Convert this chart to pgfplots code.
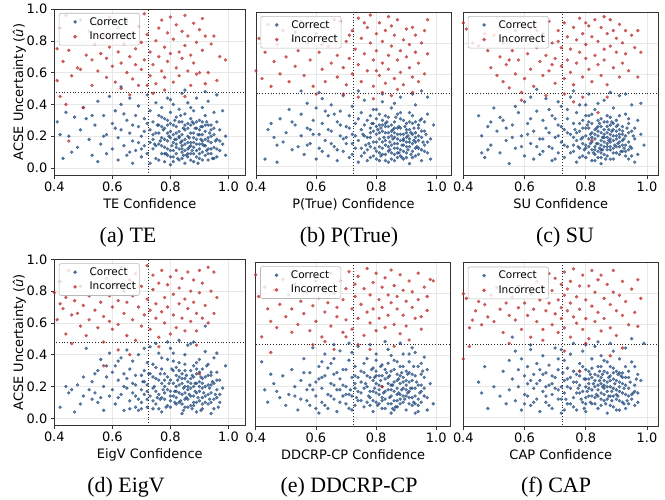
\documentclass[border=0pt]{standalone}
\usepackage{fontspec}
\setmainfont{DejaVu Sans}
\newfontfamily\capfont{Liberation Serif}
\usepackage{pgfplots}
\pgfplotsset{compat=1.18}

\definecolor{cblue}{RGB}{31,73,125}
\definecolor{cred}{RGB}{190,45,45}
\definecolor{gridc}{RGB}{232,232,232}

\pgfplotsset{
  panel/.style={
    scale only axis,
    xmin=0.4, ymax=1.0,
    xtick={0.4,0.6,0.8,1.0},
    ytick={0,0.2,0.4,0.6,0.8,1.0},
    /pgf/number format/assume math mode=true,
    xticklabel style={/pgf/number format/.cd,fixed,fixed zerofill,precision=1},
    yticklabel style={/pgf/number format/.cd,fixed,fixed zerofill,precision=1},
    ticklabel style={font=\fontsize{13}{15}\selectfont},
    label style={font=\fontsize{13}{15}\selectfont},
    ylabel shift=-6bp,
    grid=major,
    major grid style={gridc, line width=0.6pt},
    axis line style={black!80, line width=0.8pt},
    tick style={black!80, line width=0.6pt},
    tick align=outside,
    major tick length=3.5bp,
    xtick pos=bottom, ytick pos=left,
    legend style={at={(0,1)}, anchor=north west, xshift=4.5bp, yshift=-4bp,
      fill=white, fill opacity=0.8, text opacity=1, draw=black!28,
      draw opacity=1, line width=0.6pt,
      rounded corners=2bp, font=\fontsize{10.5}{11}\selectfont,
      row sep=1.5bp, inner xsep=1.5bp, inner ysep=2bp},
    legend cell align=left,
  },
  noy/.style={yticklabels={}, ytick style={draw=none}},
  dotlegend/.style={legend image code/.code={%
      \path[draw=none, fill=none] (0bp,-2bp) rectangle (27bp,2bp);
      \draw[mark repeat=2,mark phase=2,##1]
      plot coordinates {(0bp,0bp) (14.5bp,0bp) (27bp,0bp)};}},
  cor/.style={only marks, mark=*, mark size=1.5bp, color=cblue,
    mark options={draw=none, fill=cblue, opacity=0.7}, dotlegend},
  inc/.style={only marks, mark=*, mark size=1.5bp, color=cred,
    mark options={draw=none, fill=cred, opacity=0.72}, dotlegend},
  thr/.style={black!85, dotted, line width=0.8pt, forget plot},
}

\begin{document}
\begin{tikzpicture}
\useasboundingbox (0,0) rectangle (665bp,-500bp);

% (a) TE
\begin{axis}[panel, at={(54.3bp,-9bp)}, anchor=north west,
  width=191bp, height=166bp, xmax=1.058, ymin=-0.044,
  xlabel={TE Confidence}, ylabel={ACSE Uncertainty (\textit{û})}]
\addplot[cor] coordinates {
(0.41,0.29) (0.42,0.21) (0.43,0.06) (0.44,0.35) (0.45,0.20) (0.46,0.10) (0.47,0.32) (0.48,0.13) (0.49,0.24) (0.50,0.38)
(0.51,0.31) (0.52,0.18) (0.53,0.08) (0.54,0.27) (0.55,0.42) (0.55,0.04) (0.56,0.15) (0.57,0.33) (0.58,0.21) (0.58,0.09)
(0.59,0.45) (0.60,0.28) (0.60,0.12) (0.61,0.36) (0.62,0.19) (0.62,0.05) (0.63,0.24) (0.63,0.40) (0.64,0.14) (0.65,0.30)
(0.65,0.08) (0.66,0.22) (0.66,0.44) (0.67,0.17) (0.67,0.03) (0.68,0.33) (0.68,0.11) (0.69,0.26) (0.69,0.39) (0.70,0.07)
(0.70,0.20) (0.71,0.31) (0.71,0.14) (0.72,0.46) (0.72,0.09) (0.73,0.24) (0.73,0.36) (0.73,0.03) (0.74,0.18) (0.74,0.29)
(0.74,0.12) (0.75,0.41) (0.75,0.06) (0.75,0.22) (0.76,0.15) (0.76,0.33) (0.76,0.27) (0.77,0.09) (0.77,0.19) (0.77,0.38)
(0.78,0.04) (0.78,0.25) (0.78,0.13) (0.78,0.31) (0.79,0.17) (0.79,0.08) (0.79,0.44) (0.79,0.22) (0.80,0.11) (0.80,0.28)
(0.80,0.35) (0.80,0.02) (0.81,0.16) (0.81,0.21) (0.81,0.07) (0.81,0.40) (0.82,0.13) (0.82,0.26) (0.82,0.32) (0.82,0.09)
(0.83,0.19) (0.83,0.05) (0.83,0.37) (0.83,0.23) (0.84,0.14) (0.84,0.29) (0.84,0.10) (0.84,0.47) (0.85,0.18) (0.85,0.03)
(0.85,0.24) (0.85,0.34) (0.86,0.12) (0.86,0.20) (0.86,0.07) (0.86,0.41) (0.87,0.16) (0.87,0.27) (0.87,0.31) (0.87,0.09)
(0.88,0.13) (0.88,0.22) (0.88,0.04) (0.88,0.36) (0.89,0.18) (0.89,0.11) (0.89,0.25) (0.89,0.44) (0.90,0.15) (0.90,0.06)
(0.90,0.21) (0.90,0.30) (0.91,0.10) (0.91,0.17) (0.91,0.38) (0.91,0.26) (0.92,0.08) (0.92,0.14) (0.92,0.23) (0.92,0.33)
(0.93,0.05) (0.93,0.19) (0.93,0.12) (0.93,0.42) (0.94,0.16) (0.94,0.27) (0.94,0.09) (0.95,0.21) (0.95,0.13) (0.95,0.35)
(0.96,0.07) (0.96,0.18) (0.96,0.29) (0.97,0.11) (0.97,0.24) (0.98,0.15) (0.98,0.36) (0.99,0.20) (0.99,0.08) (0.96,0.46)
(0.72,0.28) (0.76,0.05) (0.79,0.30) (0.82,0.18) (0.84,0.21) (0.85,0.11) (0.86,0.25) (0.87,0.14) (0.88,0.19) (0.89,0.07)
(0.90,0.12) (0.91,0.21) (0.92,0.18) (0.93,0.27) (0.94,0.12) (0.83,0.12) (0.81,0.27) (0.78,0.18) (0.75,0.14) (0.77,0.26)
(0.80,0.19) (0.86,0.16) (0.88,0.28) (0.91,0.05) (0.94,0.20) (0.84,0.06) (0.79,0.12) (0.74,0.21) (0.71,0.23) (0.69,0.16)
(0.67,0.27) (0.64,0.34) (0.61,0.25) (0.57,0.20) (0.53,0.33) (0.92,0.48) (0.85,0.49) (0.63,0.51) (0.80,0.43) (0.87,0.38)
(0.82,0.15) (0.85,0.27) (0.87,0.22) (0.89,0.15) (0.90,0.24) (0.93,0.09) (0.86,0.09) (0.83,0.29) (0.80,0.07) (0.77,0.14)
(0.91,0.29) (0.95,0.06) (0.88,0.09) (0.84,0.17) (0.81,0.11) (0.76,0.22) (0.73,0.16) (0.70,0.12) (0.66,0.10) (0.97,0.17)
(0.765,0.17) (0.775,0.24) (0.785,0.09) (0.795,0.20) (0.805,0.14) (0.815,0.30) (0.825,0.06) (0.835,0.16) (0.845,0.25) (0.855,0.08)
(0.865,0.19) (0.875,0.11) (0.885,0.25) (0.895,0.03) (0.905,0.18) (0.915,0.14) (0.925,0.29) (0.935,0.22) (0.945,0.06) (0.955,0.17)
(0.77,0.32) (0.79,0.27) (0.81,0.04) (0.83,0.20) (0.85,0.15) (0.87,0.05) (0.89,0.29) (0.91,0.15) (0.93,0.17) (0.95,0.25)
(0.78,0.09) (0.80,0.23) (0.82,0.22) (0.84,0.12) (0.86,0.28) (0.88,0.16) (0.90,0.09) (0.92,0.27) (0.94,0.24) (0.96,0.12)
(0.745,0.15) (0.755,0.27) (0.835,0.33) (0.865,0.13) (0.895,0.21) (0.875,0.29) (0.845,0.08) (0.815,0.18) (0.925,0.11) (0.905,0.26)
};
\addlegendentry{Correct}
\addplot[inc] coordinates {
(0.41,0.55) (0.41,0.75) (0.42,0.45) (0.42,0.88) (0.43,0.67) (0.44,0.96) (0.44,0.40) (0.45,0.74) (0.45,0.17) (0.46,0.58)
(0.47,0.82) (0.48,0.63) (0.49,0.62) (0.49,0.93) (0.50,0.38) (0.51,0.71) (0.52,0.86) (0.53,0.68) (0.53,0.52) (0.54,0.78)
(0.55,0.90) (0.55,0.61) (0.56,0.72) (0.57,0.83) (0.58,0.57) (0.58,0.69) (0.59,0.95) (0.59,0.76) (0.60,0.64) (0.60,0.81)
(0.61,0.54) (0.62,0.73) (0.62,0.88) (0.63,0.66) (0.63,0.50) (0.64,0.78) (0.65,0.60) (0.65,0.92) (0.66,0.70) (0.66,0.84)
(0.67,0.56) (0.68,0.75) (0.68,0.65) (0.69,0.89) (0.70,0.79) (0.70,0.62) (0.71,0.97) (0.71,0.68) (0.72,0.52) (0.72,0.84)
(0.73,0.73) (0.73,0.58) (0.74,0.65) (0.75,0.80) (0.75,0.53) (0.76,0.88) (0.76,0.70) (0.77,0.61) (0.77,0.93) (0.78,0.76)
(0.78,0.57) (0.79,0.85) (0.79,0.67) (0.80,0.72) (0.80,0.95) (0.81,0.54) (0.81,0.81) (0.82,0.63) (0.82,0.90) (0.83,0.73)
(0.83,0.58) (0.84,0.86) (0.84,0.69) (0.85,0.77) (0.85,0.96) (0.86,0.61) (0.86,0.83) (0.87,0.71) (0.87,0.52) (0.88,0.91)
(0.88,0.66) (0.89,0.79) (0.89,0.59) (0.90,0.87) (0.90,0.60) (0.91,0.74) (0.91,0.94) (0.92,0.53) (0.92,0.83) (0.93,0.60)
(0.94,0.78) (0.95,0.83) (0.96,0.55) (0.97,0.70) (0.99,0.68) (0.74,0.47) (0.66,0.46) (0.85,0.45) (0.69,0.52) (0.78,0.49)
};
\addlegendentry{Incorrect}
\addplot[thr] coordinates {(0.725,-0.1) (0.725,1.1)};
\addplot[thr] coordinates {(0.3,0.475) (1.2,0.475)};
\end{axis}

% (b) P(True)
\begin{axis}[panel, noy, at={(256bp,-12bp)}, anchor=north west,
  width=195bp, height=163bp, xmax=1.048, ymin=-0.053,
  xlabel={P(True) Confidence}]
\addplot[cor] coordinates {
(0.43,0.05) (0.44,0.24) (0.45,0.28) (0.46,0.19) (0.47,0.03) (0.48,0.31) (0.49,0.16) (0.50,0.22) (0.51,0.37) (0.52,0.11)
(0.53,0.27) (0.54,0.13) (0.55,0.34) (0.55,0.20) (0.56,0.08) (0.57,0.41) (0.57,0.25) (0.58,0.15) (0.59,0.30) (0.60,0.05)
(0.60,0.38) (0.61,0.21) (0.61,0.12) (0.62,0.44) (0.62,0.28) (0.63,0.17) (0.64,0.07) (0.64,0.33) (0.65,0.23) (0.65,0.40)
(0.66,0.13) (0.67,0.29) (0.67,0.04) (0.68,0.20) (0.68,0.36) (0.69,0.10) (0.69,0.46) (0.70,0.26) (0.70,0.15) (0.71,0.33)
(0.71,0.06) (0.72,0.21) (0.72,0.39) (0.73,0.12) (0.73,0.28) (0.74,0.03) (0.74,0.17) (0.75,0.35) (0.75,0.24) (0.76,0.09)
(0.76,0.43) (0.77,0.19) (0.77,0.30) (0.78,0.13) (0.78,0.06) (0.78,0.25) (0.79,0.37) (0.79,0.16) (0.80,0.21) (0.80,0.10)
(0.80,0.31) (0.81,0.04) (0.81,0.18) (0.81,0.27) (0.82,0.42) (0.82,0.12) (0.82,0.23) (0.83,0.08) (0.83,0.33) (0.83,0.17)
(0.84,0.26) (0.84,0.13) (0.84,0.03) (0.85,0.20) (0.85,0.38) (0.85,0.09) (0.86,0.29) (0.86,0.15) (0.86,0.22) (0.87,0.06)
(0.87,0.34) (0.87,0.18) (0.88,0.11) (0.88,0.25) (0.88,0.45) (0.89,0.14) (0.89,0.05) (0.89,0.30) (0.90,0.19) (0.90,0.09)
(0.90,0.24) (0.91,0.35) (0.91,0.13) (0.91,0.02) (0.92,0.21) (0.92,0.28) (0.92,0.10) (0.93,0.16) (0.93,0.40) (0.93,0.07)
(0.94,0.25) (0.94,0.12) (0.95,0.19) (0.95,0.31) (0.95,0.04) (0.96,0.14) (0.96,0.23) (0.97,0.09) (0.97,0.34) (0.98,0.18)
(0.98,0.05) (0.99,0.27) (0.97,0.45) (0.95,0.49) (0.92,0.47) (0.82,0.47) (0.74,0.49) (0.55,0.49) (0.61,0.48) (0.86,0.41)
(0.79,0.23) (0.81,0.09) (0.83,0.22) (0.84,0.19) (0.85,0.14) (0.86,0.08) (0.87,0.25) (0.88,0.17) (0.89,0.21) (0.90,0.13)
(0.91,0.18) (0.92,0.15) (0.93,0.22) (0.94,0.08) (0.88,0.31) (0.85,0.27) (0.82,0.30) (0.80,0.16) (0.78,0.19) (0.76,0.27)
(0.75,0.12) (0.73,0.20) (0.72,0.08) (0.70,0.19) (0.68,0.27) (0.66,0.34) (0.64,0.24) (0.62,0.10) (0.59,0.21) (0.57,0.14)
(0.90,0.28) (0.87,0.12) (0.84,0.32) (0.81,0.22) (0.79,0.07) (0.77,0.11) (0.93,0.12) (0.96,0.29) (0.91,0.24) (0.86,0.19)
(0.83,0.04) (0.80,0.26) (0.77,0.04) (0.89,0.10) (0.92,0.33) (0.94,0.17) (0.88,0.07) (0.85,0.23) (0.82,0.16) (0.80,0.37)
(0.76,0.20) (0.74,0.31) (0.71,0.25) (0.69,0.18) (0.67,0.11) (0.65,0.15) (0.63,0.36) (0.58,0.24) (0.52,0.29) (0.47,0.14)
(0.84,0.10) (0.86,0.25) (0.88,0.21) (0.90,0.06) (0.91,0.29) (0.93,0.19) (0.87,0.15) (0.83,0.26) (0.81,0.13) (0.79,0.28)
(0.95,0.11) (0.89,0.18) (0.86,0.04) (0.82,0.08) (0.78,0.33) (0.75,0.07) (0.72,0.15) (0.94,0.27) (0.97,0.16) (0.90,0.16)
(0.775,0.15) (0.785,0.28) (0.795,0.12) (0.805,0.24) (0.815,0.07) (0.825,0.19) (0.835,0.29) (0.845,0.11) (0.855,0.18) (0.865,0.32)
(0.875,0.09) (0.885,0.14) (0.895,0.26) (0.905,0.20) (0.915,0.08) (0.925,0.25) (0.935,0.13) (0.945,0.30) (0.955,0.16) (0.965,0.21)
(0.80,0.05) (0.82,0.27) (0.84,0.22) (0.86,0.12) (0.88,0.35) (0.90,0.22) (0.92,0.06) (0.94,0.20) (0.96,0.10) (0.78,0.22)
(0.81,0.34) (0.83,0.14) (0.85,0.05) (0.87,0.21) (0.89,0.17) (0.91,0.16) (0.93,0.29) (0.95,0.23) (0.83,0.28) (0.87,0.09)
(0.755,0.21) (0.765,0.14) (0.815,0.25) (0.845,0.16) (0.875,0.26) (0.905,0.11) (0.925,0.17) (0.855,0.24) (0.885,0.06) (0.915,0.22)
};
\addlegendentry{Correct}
\addplot[inc] coordinates {
(0.40,0.62) (0.41,0.83) (0.42,0.57) (0.43,0.74) (0.44,0.92) (0.45,0.52) (0.46,0.68) (0.47,0.79) (0.48,0.60) (0.49,0.88)
(0.50,0.71) (0.51,0.55) (0.52,0.82) (0.53,0.65) (0.54,0.75) (0.55,0.94) (0.56,0.59) (0.57,0.80) (0.58,0.69) (0.59,0.52)
(0.60,0.86) (0.61,0.74) (0.62,0.63) (0.63,0.90) (0.63,0.55) (0.64,0.78) (0.65,0.67) (0.66,0.84) (0.67,0.58) (0.67,0.72)
(0.68,0.94) (0.69,0.64) (0.70,0.81) (0.70,0.53) (0.71,0.70) (0.72,0.88) (0.72,0.60) (0.73,0.76) (0.74,0.96) (0.74,0.66)
(0.75,0.83) (0.75,0.55) (0.76,0.73) (0.77,0.90) (0.77,0.62) (0.78,0.80) (0.78,0.98) (0.79,0.69) (0.79,0.52) (0.80,0.86)
(0.80,0.75) (0.81,0.59) (0.81,0.93) (0.82,0.67) (0.82,0.81) (0.83,0.54) (0.83,0.88) (0.84,0.72) (0.84,0.63) (0.85,0.91)
(0.85,0.78) (0.86,0.57) (0.86,0.85) (0.87,0.69) (0.87,0.95) (0.88,0.75) (0.88,0.61) (0.89,0.82) (0.89,0.53) (0.90,0.71)
(0.90,0.89) (0.91,0.64) (0.91,0.79) (0.92,0.90) (0.92,0.58) (0.93,0.74) (0.93,0.85) (0.94,0.67) (0.95,0.80) (0.96,0.60)
(0.97,0.95) (0.97,0.73) (0.96,0.88) (0.94,0.55) (0.76,0.93) (0.71,0.85) (0.66,0.95) (0.62,0.79) (0.58,0.91) (0.53,0.87)
(0.80,0.62) (0.84,0.97) (0.87,0.50) (0.74,0.45) (0.79,0.44) (0.85,0.46) (0.69,0.47) (0.60,0.47) (0.92,0.48) (0.82,0.48)
};
\addlegendentry{Incorrect}
\addplot[thr] coordinates {(0.725,-0.1) (0.725,1.1)};
\addplot[thr] coordinates {(0.3,0.475) (1.2,0.475)};
\end{axis}

% (c) SU
\begin{axis}[panel, noy, at={(463.3bp,-12bp)}, anchor=north west,
  width=195bp, height=163bp, xmax=1.037, ymin=-0.053,
  xlabel={SU Confidence}]
\addplot[cor] coordinates {
(0.45,0.33) (0.46,0.20) (0.47,0.06) (0.48,0.26) (0.49,0.14) (0.50,0.38) (0.51,0.23) (0.52,0.09) (0.53,0.30) (0.54,0.17)
(0.55,0.02) (0.56,0.27) (0.57,0.12) (0.58,0.35) (0.59,0.20) (0.60,0.07) (0.60,0.42) (0.61,0.28) (0.62,0.15) (0.63,0.23)
(0.63,0.05) (0.64,0.36) (0.65,0.18) (0.66,0.10) (0.66,0.30) (0.67,0.44) (0.68,0.22) (0.68,0.13) (0.69,0.04) (0.69,0.33)
(0.70,0.19) (0.71,0.27) (0.71,0.09) (0.72,0.39) (0.72,0.16) (0.73,0.24) (0.73,0.06) (0.74,0.31) (0.74,0.13) (0.75,0.21)
(0.75,0.45) (0.76,0.10) (0.76,0.28) (0.77,0.17) (0.77,0.35) (0.77,0.03) (0.78,0.23) (0.78,0.12) (0.79,0.30) (0.79,0.07)
(0.79,0.19) (0.80,0.40) (0.80,0.14) (0.80,0.25) (0.81,0.09) (0.81,0.33) (0.81,0.18) (0.82,0.04) (0.82,0.22) (0.82,0.28)
(0.83,0.13) (0.83,0.37) (0.83,0.08) (0.84,0.20) (0.84,0.26) (0.84,0.15) (0.85,0.02) (0.85,0.31) (0.85,0.11) (0.86,0.19)
(0.86,0.43) (0.86,0.24) (0.87,0.07) (0.87,0.15) (0.87,0.33) (0.88,0.21) (0.88,0.11) (0.88,0.27) (0.89,0.05) (0.89,0.17)
(0.89,0.38) (0.90,0.13) (0.90,0.23) (0.90,0.30) (0.91,0.08) (0.91,0.19) (0.91,0.46) (0.92,0.14) (0.92,0.26) (0.93,0.10)
(0.93,0.20) (0.93,0.34) (0.94,0.05) (0.94,0.16) (0.94,0.28) (0.95,0.12) (0.95,0.23) (0.95,0.40) (0.96,0.18) (0.97,0.08)
(0.97,0.30) (0.98,0.21) (0.98,0.41) (0.96,0.03) (0.99,0.14) (0.93,0.47) (0.88,0.48) (0.81,0.47) (0.76,0.49) (0.64,0.50)
(0.80,0.20) (0.82,0.16) (0.84,0.10) (0.85,0.22) (0.86,0.13) (0.87,0.26) (0.88,0.16) (0.89,0.24) (0.90,0.18) (0.91,0.13)
(0.92,0.21) (0.87,0.19) (0.85,0.17) (0.83,0.24) (0.81,0.13) (0.79,0.25) (0.78,0.06) (0.76,0.19) (0.74,0.22) (0.73,0.14)
(0.71,0.20) (0.70,0.31) (0.69,0.12) (0.67,0.25) (0.65,0.08) (0.62,0.31) (0.59,0.13) (0.56,0.19) (0.52,0.32) (0.48,0.11)
(0.86,0.08) (0.88,0.32) (0.90,0.09) (0.92,0.17) (0.94,0.22) (0.84,0.30) (0.82,0.11) (0.80,0.06) (0.78,0.28) (0.76,0.14)
(0.83,0.18) (0.85,0.06) (0.87,0.11) (0.89,0.28) (0.91,0.24) (0.93,0.14) (0.95,0.07) (0.80,0.33) (0.77,0.22) (0.75,0.09)
(0.72,0.26) (0.70,0.05) (0.68,0.37) (0.66,0.18) (0.64,0.13) (0.61,0.21) (0.57,0.39) (0.54,0.25) (0.49,0.29) (0.46,0.09)
(0.84,0.23) (0.86,0.29) (0.88,0.05) (0.90,0.20) (0.82,0.34) (0.79,0.15) (0.81,0.25) (0.83,0.04) (0.92,0.10) (0.94,0.31)
(0.87,0.22) (0.85,0.14) (0.89,0.12) (0.91,0.33) (0.96,0.25) (0.74,0.37) (0.78,0.40) (0.84,0.41) (0.71,0.42) (0.62,0.45)
(0.785,0.18) (0.795,0.11) (0.805,0.27) (0.815,0.21) (0.825,0.09) (0.835,0.15) (0.845,0.28) (0.855,0.19) (0.865,0.05) (0.875,0.17)
(0.885,0.23) (0.895,0.14) (0.905,0.27) (0.915,0.10) (0.925,0.18) (0.935,0.25) (0.945,0.13) (0.955,0.20) (0.83,0.21) (0.85,0.26)
(0.87,0.13) (0.89,0.20) (0.91,0.16) (0.93,0.07) (0.80,0.12) (0.82,0.19) (0.84,0.06) (0.86,0.21) (0.88,0.18) (0.90,0.26)
(0.92,0.23) (0.94,0.11) (0.81,0.29) (0.83,0.11) (0.85,0.09) (0.87,0.29) (0.89,0.09) (0.91,0.21) (0.86,0.16) (0.88,0.13)
(0.775,0.13) (0.765,0.24) (0.815,0.15) (0.845,0.12) (0.875,0.24) (0.905,0.15) (0.925,0.12) (0.855,0.11) (0.885,0.29) (0.835,0.25)
};
\addlegendentry{Correct}
\addplot[inc] coordinates {
(0.40,0.93) (0.41,0.89) (0.43,0.80) (0.45,0.78) (0.47,0.86) (0.48,0.75) (0.49,0.64) (0.50,0.85) (0.51,0.59) (0.52,0.71)
(0.53,0.55) (0.53,0.80) (0.54,0.66) (0.55,0.51) (0.56,0.75) (0.57,0.60) (0.57,0.88) (0.58,0.69) (0.59,0.48) (0.60,0.82)
(0.60,0.57) (0.61,0.73) (0.62,0.63) (0.62,0.90) (0.63,0.52) (0.64,0.77) (0.65,0.68) (0.66,0.59) (0.66,0.86) (0.67,0.72)
(0.68,0.94) (0.68,0.62) (0.69,0.80) (0.70,0.54) (0.70,0.70) (0.71,0.88) (0.72,0.65) (0.72,0.77) (0.73,0.57) (0.73,0.93)
(0.74,0.84) (0.74,0.69) (0.75,0.61) (0.75,0.76) (0.76,0.90) (0.76,0.53) (0.77,0.82) (0.77,0.67) (0.78,0.74) (0.78,0.96)
(0.79,0.58) (0.79,0.86) (0.80,0.70) (0.80,0.79) (0.81,0.63) (0.81,0.91) (0.82,0.55) (0.82,0.84) (0.83,0.72) (0.83,0.95)
(0.84,0.66) (0.84,0.81) (0.85,0.59) (0.85,0.90) (0.86,0.76) (0.86,0.69) (0.87,0.86) (0.87,0.53) (0.88,0.78) (0.88,0.95)
(0.89,0.64) (0.89,0.88) (0.90,0.74) (0.90,0.83) (0.91,0.58) (0.91,0.92) (0.92,0.80) (0.92,0.67) (0.93,0.88) (0.93,0.73)
(0.94,0.62) (0.95,0.85) (0.96,0.77) (0.97,0.88) (0.98,0.74) (0.97,0.58) (0.87,0.45) (0.84,0.35) (0.82,0.17) (0.79,0.45)
(0.73,0.47) (0.67,0.46) (0.59,0.43) (0.76,0.42) (0.86,0.97) (0.80,0.93) (0.71,0.81) (0.64,0.88) (0.55,0.69) (0.69,0.66)
};
\addlegendentry{Incorrect}
\addplot[thr] coordinates {(0.725,-0.1) (0.725,1.1)};
\addplot[thr] coordinates {(0.3,0.475) (1.2,0.475)};
\end{axis}

% (d) EigV
\begin{axis}[panel, at={(54.3bp,-259.3bp)}, anchor=north west,
  width=191bp, height=166bp, xmax=1.058, ymin=-0.044,
  xlabel={EigV Confidence}, ylabel={ACSE Uncertainty (\textit{û})}]
\addplot[cor] coordinates {
(0.42,0.07) (0.44,0.20) (0.45,0.16) (0.46,0.18) (0.47,0.04) (0.48,0.21) (0.49,0.09) (0.50,0.14) (0.51,0.44) (0.52,0.18)
(0.53,0.23) (0.53,0.12) (0.54,0.16) (0.55,0.30) (0.55,0.10) (0.56,0.37) (0.57,0.20) (0.57,0.05) (0.58,0.26) (0.59,0.14)
(0.59,0.41) (0.60,0.18) (0.61,0.09) (0.61,0.33) (0.62,0.24) (0.63,0.15) (0.63,0.38) (0.64,0.05) (0.64,0.28) (0.65,0.19)
(0.65,0.43) (0.66,0.11) (0.66,0.31) (0.67,0.22) (0.67,0.36) (0.68,0.07) (0.68,0.14) (0.68,0.27) (0.69,0.05) (0.69,0.40)
(0.70,0.18) (0.70,0.10) (0.71,0.30) (0.71,0.23) (0.72,0.07) (0.72,0.35) (0.73,0.14) (0.73,0.45) (0.74,0.26) (0.74,0.19)
(0.75,0.09) (0.75,0.32) (0.76,0.15) (0.76,0.41) (0.77,0.22) (0.77,0.04) (0.78,0.28) (0.78,0.12) (0.79,0.37) (0.79,0.18)
(0.80,0.07) (0.80,0.24) (0.80,0.44) (0.81,0.14) (0.81,0.30) (0.82,0.20) (0.82,0.09) (0.83,0.35) (0.83,0.16) (0.83,0.26)
(0.84,0.03) (0.84,0.22) (0.85,0.12) (0.85,0.40) (0.85,0.30) (0.86,0.18) (0.86,0.07) (0.87,0.25) (0.87,0.14) (0.87,0.47)
(0.88,0.33) (0.88,0.10) (0.88,0.20) (0.89,0.28) (0.89,0.04) (0.89,0.16) (0.90,0.37) (0.90,0.23) (0.90,0.11) (0.91,0.19)
(0.91,0.31) (0.91,0.06) (0.92,0.26) (0.92,0.14) (0.92,0.42) (0.93,0.09) (0.93,0.21) (0.93,0.34) (0.94,0.16) (0.94,0.03)
(0.94,0.27) (0.95,0.12) (0.95,0.22) (0.95,0.38) (0.96,0.18) (0.96,0.29) (0.97,0.10) (0.97,0.24) (0.99,0.33) (0.98,0.19)
(0.92,0.58) (0.88,0.48) (0.83,0.49) (0.79,0.48) (0.75,0.47) (0.71,0.44) (0.96,0.41) (0.86,0.46) (0.81,0.41) (0.77,0.38)
(0.84,0.15) (0.86,0.23) (0.88,0.14) (0.90,0.17) (0.91,0.25) (0.93,0.15) (0.85,0.20) (0.82,0.27) (0.80,0.17) (0.78,0.20)
(0.76,0.24) (0.74,0.11) (0.72,0.21) (0.70,0.27) (0.69,0.12) (0.67,0.16) (0.65,0.25) (0.62,0.13) (0.60,0.29) (0.58,0.33)
(0.87,0.08) (0.89,0.22) (0.91,0.13) (0.94,0.21) (0.84,0.28) (0.82,0.13) (0.79,0.08) (0.77,0.31) (0.75,0.17) (0.73,0.28)
(0.83,0.10) (0.85,0.25) (0.87,0.19) (0.89,0.10) (0.92,0.20) (0.95,0.06) (0.96,0.24) (0.81,0.22) (0.79,0.26) (0.76,0.06)
(0.71,0.15) (0.68,0.21) (0.66,0.06) (0.64,0.20) (0.62,0.36) (0.56,0.13) (0.54,0.28) (0.50,0.26) (0.80,0.11) (0.86,0.12)
(0.88,0.26) (0.90,0.29) (0.93,0.27) (0.85,0.07) (0.83,0.21) (0.81,0.36) (0.78,0.16) (0.74,0.34) (0.72,0.12) (0.70,0.06)
(0.91,0.09) (0.87,0.30) (0.84,0.09) (0.82,0.32) (0.77,0.13) (0.75,0.25) (0.94,0.10) (0.97,0.15) (0.89,0.35) (0.85,0.34)
(0.745,0.20) (0.755,0.13) (0.765,0.28) (0.775,0.18) (0.785,0.07) (0.795,0.22) (0.805,0.31) (0.815,0.17) (0.825,0.24) (0.835,0.11)
(0.845,0.19) (0.855,0.27) (0.865,0.15) (0.875,0.06) (0.885,0.22) (0.895,0.13) (0.905,0.26) (0.915,0.16) (0.925,0.33) (0.935,0.12)
(0.945,0.23) (0.955,0.15) (0.965,0.07) (0.72,0.17) (0.74,0.06) (0.78,0.24) (0.80,0.14) (0.82,0.17) (0.84,0.25) (0.86,0.20)
(0.88,0.08) (0.90,0.20) (0.92,0.10) (0.94,0.29) (0.96,0.13) (0.83,0.30) (0.85,0.16) (0.87,0.22) (0.89,0.31) (0.91,0.22)
(0.705,0.23) (0.725,0.28) (0.815,0.10) (0.845,0.05) (0.875,0.27) (0.905,0.05) (0.935,0.19) (0.855,0.13) (0.885,0.17) (0.765,0.12)
};
\addlegendentry{Correct}
\addplot[inc] coordinates {
(0.40,0.79) (0.41,0.62) (0.42,0.72) (0.42,0.86) (0.43,0.69) (0.44,0.53) (0.44,0.76) (0.45,0.93) (0.46,0.47) (0.46,0.65)
(0.47,0.74) (0.48,0.66) (0.49,0.58) (0.49,0.83) (0.50,0.71) (0.51,0.52) (0.52,0.77) (0.52,0.62) (0.53,0.90) (0.54,0.68)
(0.55,0.57) (0.55,0.82) (0.56,0.73) (0.57,0.48) (0.57,0.64) (0.58,0.88) (0.59,0.61) (0.59,0.77) (0.60,0.56) (0.60,0.70)
(0.61,0.84) (0.62,0.59) (0.62,0.74) (0.63,0.95) (0.64,0.66) (0.64,0.80) (0.65,0.52) (0.65,0.73) (0.66,0.87) (0.67,0.62)
(0.67,0.77) (0.68,0.49) (0.68,0.91) (0.69,0.70) (0.70,0.58) (0.70,0.83) (0.71,0.65) (0.72,0.96) (0.72,0.75) (0.73,0.68)
(0.73,0.56) (0.74,0.81) (0.74,0.90) (0.75,0.63) (0.75,0.72) (0.76,0.51) (0.76,0.85) (0.77,0.67) (0.77,0.93) (0.78,0.76)
(0.78,0.60) (0.79,0.84) (0.79,0.70) (0.80,0.53) (0.80,0.89) (0.81,0.65) (0.81,0.78) (0.82,0.57) (0.82,0.93) (0.83,0.72)
(0.83,0.82) (0.84,0.63) (0.84,0.88) (0.85,0.55) (0.85,0.75) (0.86,0.69) (0.86,0.92) (0.87,0.80) (0.87,0.61) (0.88,0.73)
(0.88,0.87) (0.89,0.66) (0.89,0.55) (0.90,0.79) (0.90,0.93) (0.91,0.63) (0.91,0.85) (0.92,0.71) (0.93,0.95) (0.93,0.60)
(0.94,0.80) (0.95,0.92) (0.95,0.66) (0.96,0.76) (0.89,0.46) (0.76,0.45) (0.66,0.40) (0.57,0.33) (0.90,0.28) (0.62,0.43)
};
\addlegendentry{Incorrect}
\addplot[thr] coordinates {(0.725,-0.1) (0.725,1.1)};
\addplot[thr] coordinates {(0.3,0.475) (1.2,0.475)};
\end{axis}

% (e) DDCRP-CP
\begin{axis}[panel, noy, at={(255.7bp,-262.3bp)}, anchor=north west,
  width=195bp, height=163.7bp, xmax=1.048, ymin=-0.053,
  xlabel={DDCRP-CP Confidence}]
\addplot[cor] coordinates {
(0.42,0.36) (0.43,0.18) (0.44,0.10) (0.46,0.22) (0.47,0.17) (0.48,0.13) (0.49,0.27) (0.50,0.08) (0.51,0.15) (0.52,0.31)
(0.53,0.20) (0.54,0.05) (0.55,0.24) (0.55,0.12) (0.56,0.38) (0.57,0.18) (0.58,0.29) (0.58,0.08) (0.59,0.45) (0.60,0.14)
(0.60,0.23) (0.61,0.03) (0.61,0.33) (0.62,0.19) (0.62,0.10) (0.63,0.27) (0.63,0.41) (0.64,0.15) (0.64,0.06) (0.65,0.22)
(0.65,0.35) (0.66,0.12) (0.66,0.28) (0.67,0.18) (0.67,0.04) (0.68,0.25) (0.68,0.43) (0.69,0.14) (0.69,0.31) (0.70,0.09)
(0.70,0.20) (0.71,0.37) (0.71,0.15) (0.72,0.26) (0.72,0.05) (0.73,0.19) (0.73,0.33) (0.74,0.11) (0.74,0.46) (0.75,0.23)
(0.75,0.16) (0.76,0.29) (0.76,0.07) (0.77,0.38) (0.77,0.20) (0.78,0.13) (0.78,0.26) (0.79,0.04) (0.79,0.32) (0.79,0.17)
(0.80,0.22) (0.80,0.10) (0.80,0.41) (0.81,0.27) (0.81,0.15) (0.82,0.06) (0.82,0.34) (0.82,0.20) (0.83,0.12) (0.83,0.25)
(0.84,0.44) (0.84,0.18) (0.84,0.09) (0.85,0.30) (0.85,0.14) (0.85,0.03) (0.86,0.23) (0.86,0.37) (0.86,0.11) (0.87,0.19)
(0.87,0.28) (0.87,0.07) (0.88,0.15) (0.88,0.33) (0.88,0.22) (0.89,0.10) (0.89,0.41) (0.89,0.26) (0.90,0.05) (0.90,0.18)
(0.90,0.30) (0.91,0.13) (0.91,0.23) (0.91,0.36) (0.92,0.08) (0.92,0.19) (0.92,0.45) (0.93,0.27) (0.93,0.14) (0.93,0.03)
(0.94,0.21) (0.94,0.33) (0.95,0.10) (0.95,0.17) (0.96,0.26) (0.96,0.39) (0.97,0.13) (0.97,0.05) (0.98,0.22) (0.99,0.09)
(0.71,0.48) (0.78,0.47) (0.83,0.49) (0.88,0.48) (0.93,0.42) (0.66,0.47) (0.62,0.36) (0.85,0.21) (0.87,0.15) (0.89,0.19)
(0.91,0.09) (0.83,0.17) (0.81,0.21) (0.79,0.24) (0.77,0.10) (0.75,0.30) (0.73,0.22) (0.71,0.06) (0.69,0.21) (0.67,0.29)
(0.65,0.14) (0.63,0.08) (0.61,0.25) (0.59,0.18) (0.57,0.11) (0.84,0.26) (0.86,0.05) (0.88,0.27) (0.90,0.14) (0.92,0.24)
(0.94,0.12) (0.96,0.19) (0.82,0.13) (0.80,0.30) (0.78,0.08) (0.76,0.19) (0.74,0.26) (0.72,0.14) (0.70,0.31) (0.68,0.10)
(0.85,0.09) (0.87,0.24) (0.89,0.14) (0.91,0.29) (0.93,0.19) (0.95,0.28) (0.84,0.35) (0.82,0.27) (0.80,0.16) (0.79,0.11)
(0.77,0.27) (0.76,0.35) (0.74,0.17) (0.73,0.08) (0.70,0.15) (0.68,0.18) (0.66,0.21) (0.64,0.32) (0.62,0.26) (0.60,0.06)
(0.86,0.17) (0.88,0.09) (0.90,0.24) (0.92,0.13) (0.94,0.04) (0.97,0.31) (0.83,0.06) (0.81,0.09) (0.85,0.40) (0.87,0.36)
(0.53,0.14) (0.56,0.29) (0.45,0.28) (0.58,0.21) (0.66,0.38) (0.72,0.42) (0.80,0.37) (0.89,0.33) (0.95,0.35) (0.91,0.41)
(0.765,0.22) (0.775,0.14) (0.785,0.31) (0.795,0.19) (0.805,0.08) (0.815,0.24) (0.825,0.16) (0.835,0.29) (0.845,0.13) (0.855,0.21)
(0.865,0.07) (0.875,0.25) (0.885,0.18) (0.895,0.12) (0.905,0.28) (0.915,0.19) (0.925,0.10) (0.935,0.23) (0.945,0.16) (0.955,0.30)
(0.80,0.27) (0.82,0.11) (0.84,0.22) (0.86,0.31) (0.88,0.12) (0.90,0.21) (0.92,0.28) (0.94,0.08) (0.96,0.14) (0.78,0.17)
(0.81,0.18) (0.83,0.31) (0.85,0.18) (0.87,0.11) (0.89,0.23) (0.91,0.17) (0.93,0.09) (0.95,0.21) (0.73,0.27) (0.75,0.11)
(0.715,0.18) (0.735,0.13) (0.815,0.33) (0.845,0.27) (0.875,0.16) (0.905,0.16) (0.925,0.33) (0.855,0.06) (0.885,0.29) (0.795,0.26)
};
\addlegendentry{Correct}
\addplot[inc] coordinates {
(0.40,0.92) (0.41,0.78) (0.42,0.52) (0.43,0.84) (0.44,0.70) (0.45,0.62) (0.46,0.82) (0.47,0.58) (0.48,0.73) (0.49,0.89)
(0.50,0.65) (0.51,0.79) (0.52,0.55) (0.52,0.70) (0.53,0.86) (0.54,0.60) (0.55,0.75) (0.56,0.92) (0.56,0.67) (0.57,0.81)
(0.58,0.56) (0.59,0.72) (0.60,0.88) (0.60,0.62) (0.61,0.77) (0.62,0.52) (0.63,0.68) (0.63,0.84) (0.64,0.74) (0.65,0.59)
(0.65,0.93) (0.66,0.80) (0.67,0.65) (0.67,0.71) (0.68,0.88) (0.69,0.55) (0.69,0.76) (0.70,0.83) (0.70,0.63) (0.71,0.94)
(0.72,0.70) (0.72,0.57) (0.73,0.86) (0.73,0.78) (0.74,0.64) (0.74,0.91) (0.75,0.73) (0.76,0.53) (0.76,0.83) (0.77,0.68)
(0.77,0.96) (0.78,0.61) (0.78,0.79) (0.79,0.87) (0.79,0.70) (0.80,0.56) (0.80,0.93) (0.81,0.76) (0.81,0.64) (0.82,0.84)
(0.82,0.71) (0.83,0.58) (0.83,0.90) (0.84,0.79) (0.84,0.66) (0.85,0.74) (0.85,0.95) (0.86,0.60) (0.86,0.85) (0.87,0.70)
(0.87,0.78) (0.88,0.54) (0.88,0.92) (0.89,0.66) (0.89,0.82) (0.90,0.75) (0.90,0.59) (0.91,0.88) (0.92,0.71) (0.92,0.81)
(0.93,0.64) (0.94,0.93) (0.94,0.76) (0.95,0.57) (0.96,0.84) (0.97,0.69) (0.98,0.89) (0.99,0.88) (0.97,0.78) (0.95,0.65)
(0.45,0.42) (0.59,0.47) (0.66,0.44) (0.74,0.47) (0.86,0.46) (0.82,0.20) (0.78,0.44) (0.70,0.52) (0.63,0.49) (0.91,0.50)
};
\addlegendentry{Incorrect}
\addplot[thr] coordinates {(0.725,-0.1) (0.725,1.1)};
\addplot[thr] coordinates {(0.3,0.475) (1.2,0.475)};
\end{axis}

% (f) CAP
\begin{axis}[panel, noy, at={(463.3bp,-262.7bp)}, anchor=north west,
  width=195bp, height=163.3bp, xmax=1.037, ymin=-0.053,
  xlabel={CAP Confidence}]
\addplot[cor] coordinates {
(0.45,0.23) (0.46,0.16) (0.47,0.33) (0.48,0.06) (0.50,0.20) (0.52,0.14) (0.53,0.30) (0.54,0.09) (0.55,0.37) (0.55,0.18)
(0.56,0.25) (0.57,0.43) (0.57,0.11) (0.58,0.31) (0.58,0.20) (0.59,0.05) (0.59,0.38) (0.60,0.27) (0.60,0.15) (0.61,0.22)
(0.61,0.33) (0.62,0.08) (0.62,0.44) (0.63,0.19) (0.63,0.28) (0.64,0.12) (0.64,0.35) (0.65,0.04) (0.65,0.24) (0.66,0.17)
(0.66,0.40) (0.67,0.29) (0.67,0.10) (0.68,0.21) (0.68,0.34) (0.69,0.06) (0.69,0.15) (0.70,0.26) (0.70,0.45) (0.71,0.12)
(0.71,0.31) (0.72,0.20) (0.72,0.03) (0.73,0.37) (0.73,0.16) (0.74,0.25) (0.74,0.09) (0.75,0.41) (0.75,0.19) (0.76,0.30)
(0.76,0.13) (0.77,0.05) (0.77,0.23) (0.78,0.35) (0.78,0.16) (0.78,0.27) (0.79,0.10) (0.79,0.43) (0.80,0.20) (0.80,0.31)
(0.80,0.04) (0.81,0.14) (0.81,0.25) (0.82,0.38) (0.82,0.18) (0.82,0.09) (0.83,0.28) (0.83,0.13) (0.83,0.46) (0.84,0.21)
(0.84,0.33) (0.84,0.06) (0.85,0.16) (0.85,0.26) (0.85,0.40) (0.86,0.11) (0.86,0.19) (0.86,0.30) (0.87,0.03) (0.87,0.23)
(0.87,0.36) (0.88,0.14) (0.88,0.27) (0.88,0.08) (0.89,0.19) (0.89,0.43) (0.89,0.32) (0.90,0.12) (0.90,0.24) (0.90,0.05)
(0.91,0.17) (0.91,0.29) (0.91,0.38) (0.92,0.10) (0.92,0.22) (0.93,0.15) (0.93,0.33) (0.93,0.06) (0.94,0.26) (0.94,0.19)
(0.95,0.12) (0.95,0.36) (0.95,0.51) (0.96,0.21) (0.96,0.08) (0.97,0.28) (0.97,0.16) (0.98,0.24) (0.99,0.48) (0.56,0.52)
(0.84,0.49) (0.88,0.48) (0.80,0.47) (0.76,0.48) (0.72,0.44) (0.93,0.45) (0.62,0.47) (0.85,0.22) (0.87,0.17) (0.89,0.25)
(0.91,0.11) (0.83,0.20) (0.81,0.30) (0.79,0.17) (0.77,0.28) (0.75,0.09) (0.73,0.24) (0.71,0.18) (0.69,0.27) (0.67,0.20)
(0.65,0.31) (0.63,0.10) (0.61,0.14) (0.84,0.14) (0.86,0.24) (0.88,0.20) (0.90,0.30) (0.92,0.16) (0.94,0.09) (0.82,0.26)
(0.80,0.13) (0.78,0.21) (0.76,0.07) (0.74,0.32) (0.72,0.12) (0.70,0.19) (0.68,0.08) (0.66,0.28) (0.64,0.22) (0.83,0.09)
(0.85,0.33) (0.87,0.12) (0.89,0.14) (0.91,0.23) (0.93,0.26) (0.86,0.37) (0.81,0.19) (0.79,0.33) (0.77,0.16) (0.75,0.26)
(0.73,0.05) (0.71,0.38) (0.69,0.22) (0.67,0.14) (0.62,0.24) (0.60,0.09) (0.85,0.08) (0.88,0.33) (0.90,0.18) (0.92,0.29)
(0.82,0.32) (0.80,0.25) (0.84,0.27) (0.86,0.15) (0.87,0.29) (0.89,0.07) (0.91,0.05) (0.94,0.14) (0.96,0.33) (0.97,0.10)
(0.775,0.19) (0.785,0.12) (0.795,0.25) (0.805,0.17) (0.815,0.28) (0.825,0.22) (0.835,0.15) (0.845,0.30) (0.855,0.20) (0.865,0.09)
(0.875,0.26) (0.885,0.17) (0.895,0.22) (0.905,0.14) (0.915,0.27) (0.925,0.19) (0.935,0.11) (0.945,0.23) (0.955,0.16) (0.965,0.25)
(0.80,0.09) (0.82,0.14) (0.84,0.18) (0.86,0.21) (0.88,0.24) (0.90,0.15) (0.92,0.26) (0.94,0.30) (0.96,0.17) (0.78,0.30)
(0.81,0.22) (0.83,0.24) (0.85,0.12) (0.87,0.20) (0.89,0.29) (0.91,0.20) (0.93,0.21) (0.95,0.15) (0.74,0.20) (0.76,0.23)
(0.725,0.29) (0.735,0.12) (0.815,0.10) (0.845,0.24) (0.875,0.14) (0.905,0.28) (0.925,0.09) (0.855,0.28) (0.885,0.11) (0.795,0.06)
};
\addlegendentry{Correct}
\addplot[inc] coordinates {
(0.40,0.38) (0.40,0.80) (0.41,0.77) (0.42,0.58) (0.42,0.46) (0.43,0.63) (0.44,0.69) (0.45,0.75) (0.46,0.60) (0.47,0.73)
(0.48,0.65) (0.49,0.79) (0.50,0.62) (0.51,0.84) (0.52,0.70) (0.53,0.55) (0.54,0.74) (0.55,0.66) (0.55,0.48) (0.56,0.78)
(0.57,0.63) (0.58,0.85) (0.58,0.71) (0.59,0.57) (0.60,0.74) (0.60,0.93) (0.61,0.66) (0.62,0.80) (0.62,0.52) (0.63,0.70)
(0.64,0.88) (0.64,0.62) (0.65,0.76) (0.66,0.57) (0.66,0.84) (0.67,0.69) (0.68,0.93) (0.68,0.74) (0.69,0.60) (0.69,0.82)
(0.70,0.67) (0.70,0.90) (0.71,0.76) (0.71,0.55) (0.72,0.86) (0.72,0.71) (0.72,0.64) (0.73,0.94) (0.73,0.79) (0.73,0.58)
(0.74,0.83) (0.74,0.69) (0.75,0.74) (0.75,0.88) (0.75,0.52) (0.76,0.65) (0.76,0.96) (0.77,0.78) (0.77,0.61) (0.78,0.85)
(0.78,0.70) (0.79,0.57) (0.79,0.92) (0.80,0.76) (0.80,0.64) (0.81,0.85) (0.81,0.51) (0.82,0.72) (0.82,0.95) (0.83,0.62)
(0.83,0.81) (0.84,0.89) (0.84,0.68) (0.85,0.56) (0.85,0.92) (0.86,0.77) (0.86,0.64) (0.87,0.86) (0.88,0.73) (0.88,0.58)
(0.89,0.81) (0.89,0.95) (0.90,0.69) (0.90,0.53) (0.91,0.79) (0.92,0.88) (0.92,0.66) (0.93,0.75) (0.94,0.60) (0.95,0.83)
(0.96,0.68) (0.97,0.89) (0.98,0.77) (0.97,0.59) (0.92,0.45) (0.88,0.40) (0.80,0.48) (0.73,0.43) (0.66,0.50) (0.78,0.30)
};
\addlegendentry{Incorrect}
\addplot[thr] coordinates {(0.725,-0.1) (0.725,1.1)};
\addplot[thr] coordinates {(0.3,0.475) (1.2,0.475)};
\end{axis}

% sub-captions
\begin{scope}[every node/.style={font=\capfont\fontsize{22}{24}\selectfont, anchor=base}]
\node at (128bp,-242bp) {(a) TE};
\node at (349bp,-242bp) {(b) P(True)};
\node at (565bp,-242bp) {(c) SU};
\node at (126bp,-492bp) {(d) EigV};
\node at (349bp,-492bp) {(e) DDCRP-CP};
\node at (556bp,-492bp) {(f) CAP};
\end{scope}
\end{tikzpicture}
\end{document}
